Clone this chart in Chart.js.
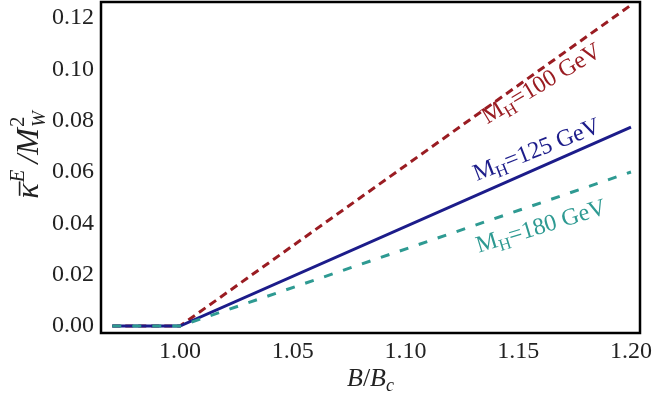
<!DOCTYPE html>
<html>
<head>
<meta charset="utf-8">
<script src="https://cdn.jsdelivr.net/npm/chart.js@4"></script>
<style>
  html, body { margin: 0; padding: 0; background: #fff; }
  #wrap { width: 654px; height: 407px; }
</style>
</head>
<body>
<div id="wrap"><canvas id="chart"></canvas></div>
<script>
// B/Bc on the x axis, kappa^E / M_W^2 for three Higgs masses
const bRatio = [0.97, 1.0, 1.2];
const kappaMH100 = [0, 0, 0.125];
const kappaMH125 = [0, 0, 0.0775];
const kappaMH180 = [0, 0, 0.060];
const xTicks = [1.00, 1.05, 1.10, 1.15, 1.20];
const yTicks = [0.00, 0.02, 0.04, 0.06, 0.08, 0.10, 0.12];

const RED = '#9a1c22';
const NAVY = '#1c1c8a';
const TEAL = '#2e9a92';
const SERIF = '"Liberation Serif", "Times New Roman", Times, serif';

const curveLabels = [
  { mass: '100', x: 1.16, y: 0.0947, angle: -31, color: RED },
  { mass: '125', x: 1.158, y: 0.0690, angle: -21.5, color: NAVY },
  { mass: '180', x: 1.16, y: 0.0392, angle: -17, color: TEAL },
];

const toPoints = ys => bRatio.map((b, i) => ({ x: b, y: ys[i] }));

function font(size, italic) {
  return `${italic ? 'italic ' : ''}${size}px ${SERIF}`;
}

// draws a row of text pieces centred on (0,0) of the current transform
function drawRuns(ctx, runs) {
  let total = 0;
  for (const r of runs) {
    ctx.font = font(r.size, r.italic);
    let w = ctx.measureText(r.text).width;
    if (r.alt) {
      ctx.font = font(r.alt.size, r.alt.italic);
      w = Math.max(w, ctx.measureText(r.alt.text).width);
    }
    r.w = w + (r.gap || 0);
    total += r.w;
  }
  let x = -total / 2;
  for (const r of runs) {
    ctx.font = font(r.size, r.italic);
    ctx.fillText(r.text, x, r.dy || 0);
    if (r.bar) {
      const w = ctx.measureText(r.text).width;
      ctx.fillRect(x + 3, -r.size * 0.6, w - 1, 1.6);
    }
    if (r.alt) {
      ctx.font = font(r.alt.size, r.alt.italic);
      ctx.fillText(r.alt.text, x, r.alt.dy || 0);
    }
    x += r.w;
  }
}

const decorations = {
  id: 'decorations',
  afterDatasetsDraw(chart) {
    const ctx = chart.ctx;
    const xs = chart.scales.x, ys = chart.scales.y;
    for (const lab of curveLabels) {
      ctx.save();
      ctx.translate(xs.getPixelForValue(lab.x), ys.getPixelForValue(lab.y));
      ctx.rotate(lab.angle * Math.PI / 180);
      ctx.fillStyle = lab.color;
      ctx.textBaseline = 'alphabetic';
      ctx.translate(0, 8);
      drawRuns(ctx, [
        { text: 'M', size: 24 },
        { text: 'H', size: 17, dy: 5 },
        { text: '=' + lab.mass + ' GeV', size: 24 },
      ]);
      ctx.restore();
    }
  },
  afterDraw(chart) {
    const ctx = chart.ctx;
    const a = chart.chartArea;
    ctx.save();
    ctx.strokeStyle = '#000';
    ctx.lineWidth = 2.5;
    ctx.strokeRect(a.left, a.top, a.right - a.left, a.bottom - a.top);

    ctx.fillStyle = '#222';
    ctx.textBaseline = 'alphabetic';
    // x title
    ctx.save();
    ctx.translate((a.left + a.right) / 2, 386);
    drawRuns(ctx, [
      { text: 'B', size: 26, italic: true },
      { text: '/', size: 26 },
      { text: 'B', size: 26, italic: true },
      { text: 'c', size: 18, italic: true, dy: 5 },
    ]);
    ctx.restore();
    // y title
    ctx.save();
    ctx.translate(38, 155);
    ctx.rotate(-Math.PI / 2);
    drawRuns(ctx, [
      { text: 'κ', size: 32, italic: true, bar: true, gap: 1 },
      { text: 'E', size: 21, italic: true, dy: -14, gap: 6 },
      { text: '/', size: 32, italic: true },
      { text: 'M', size: 32, italic: true, gap: 1 },
      { text: '2', size: 21, dy: -14, alt: { text: 'W', size: 19, italic: true, dy: 7 } },
    ]);
    ctx.restore();
    ctx.restore();
  },
};

new Chart(document.getElementById('chart'), {
  type: 'line',
  data: {
    datasets: [
      {
        label: 'MH=100 GeV',
        data: toPoints(kappaMH100),
        borderColor: RED,
        borderWidth: 3,
        borderDash: [8, 5],
        order: 2,
      },
      {
        label: 'MH=125 GeV',
        data: toPoints(kappaMH125),
        borderColor: NAVY,
        borderWidth: 3,
        order: 1,
      },
      {
        label: 'MH=180 GeV',
        data: toPoints(kappaMH180),
        borderColor: TEAL,
        borderWidth: 3,
        borderDash: [9, 11],
        order: 0,
      },
    ],
  },
  options: {
    responsive: true,
    maintainAspectRatio: false,
    animation: false,
    layout: { padding: { top: 2, right: 14, left: 0, bottom: 0 } },
    elements: { point: { radius: 0 }, line: { tension: 0 } },
    plugins: { legend: { display: false }, tooltip: { enabled: false } },
    scales: {
      x: {
        type: 'linear',
        min: 0.965,
        max: 1.204,
        afterBuildTicks: s => { s.ticks = xTicks.map(v => ({ value: v })); },
        afterFit: s => { s.height = 74; s.paddingLeft = 0; s.paddingRight = 0; },
        grid: { display: false, drawTicks: false },
        border: { display: false },
        ticks: {
          padding: 4,
          color: '#222',
          font: { family: SERIF, size: 24 },
          maxRotation: 0,
          callback: v => v.toFixed(2),
        },
      },
      y: {
        min: -0.0027,
        max: 0.1262,
        afterBuildTicks: s => { s.ticks = yTicks.map(v => ({ value: v })); },
        afterFit: s => { s.width = 101; s.paddingTop = 0; s.paddingBottom = 0; },
        grid: { display: false, drawTicks: false },
        border: { display: false },
        ticks: {
          padding: 7,
          color: '#222',
          font: { family: SERIF, size: 24 },
          callback: v => v.toFixed(2),
        },
      },
    },
  },
  plugins: [decorations],
});
</script>
</body>
</html>
